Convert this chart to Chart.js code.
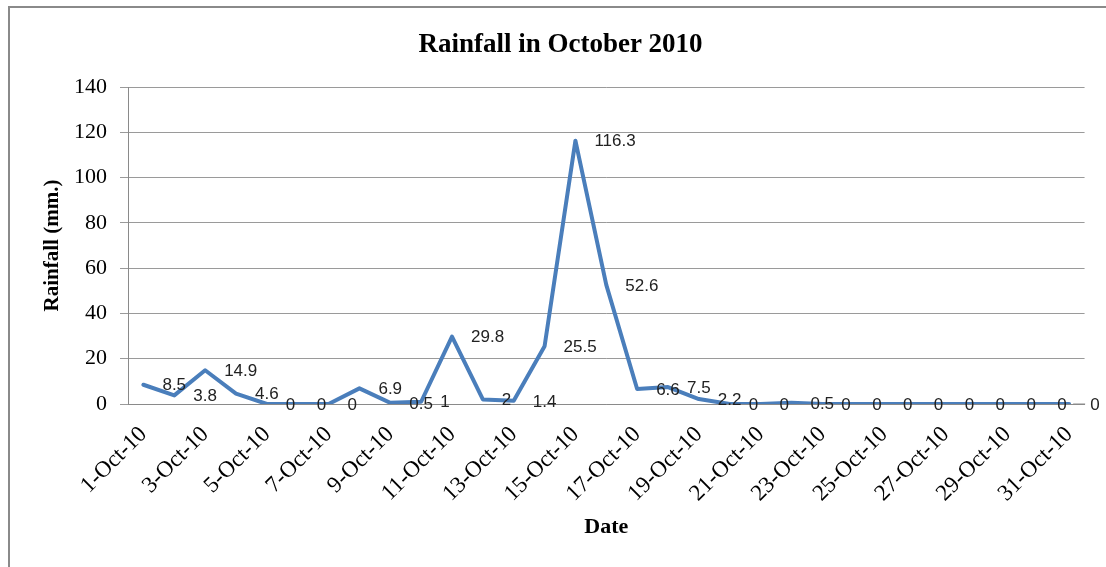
<!DOCTYPE html>
<html>
<head>
<meta charset="utf-8">
<script src="https://cdn.jsdelivr.net/npm/chart.js@4/dist/chart.umd.min.js"></script>
<style>
  html, body { margin: 0; padding: 0; background: #ffffff; }
  #wrap { width: 1106px; height: 567px; position: relative; }
</style>
</head>
<body>
<div id="wrap"><canvas id="c" width="1106" height="567"></canvas></div>
<script>
const dates = ['1-Oct-10','2-Oct-10','3-Oct-10','4-Oct-10','5-Oct-10','6-Oct-10','7-Oct-10','8-Oct-10','9-Oct-10','10-Oct-10',
  '11-Oct-10','12-Oct-10','13-Oct-10','14-Oct-10','15-Oct-10','16-Oct-10','17-Oct-10','18-Oct-10','19-Oct-10','20-Oct-10',
  '21-Oct-10','22-Oct-10','23-Oct-10','24-Oct-10','25-Oct-10','26-Oct-10','27-Oct-10','28-Oct-10','29-Oct-10','30-Oct-10','31-Oct-10'];
const rainfall = [8.5, 3.8, 14.9, 4.6, 0, 0, 0, 6.9, 0.5, 1,
  29.8, 2, 1.4, 25.5, 116.3, 52.6, 6.6, 7.5, 2.2, 0,
  0, 0.5, 0, 0, 0, 0, 0, 0, 0, 0, 0];
const yTicks = [0, 20, 40, 60, 80, 100, 120, 140];
const chartTitle = 'Rainfall in October 2010';
const xTitle = 'Date';
const yTitle = 'Rainfall (mm.)';

const frame = {
  id: 'frame',
  beforeDraw(chart) {
    const ctx = chart.ctx;
    ctx.save();
    ctx.strokeStyle = '#8a8a8a';
    ctx.lineWidth = 2;
    ctx.beginPath();
    ctx.moveTo(9, chart.height);
    ctx.lineTo(9, 7);
    ctx.lineTo(chart.width, 7);
    ctx.stroke();
    ctx.restore();
  }
};

const valueLabels = {
  id: 'valueLabels',
  afterDatasetsDraw(chart) {
    const ctx = chart.ctx;
    const xs = chart.scales.x, ys = chart.scales.y;
    ctx.save();
    ctx.font = '17px "Liberation Sans", Arial, sans-serif';
    ctx.fillStyle = '#222222';
    ctx.textAlign = 'left';
    ctx.textBaseline = 'middle';
    rainfall.forEach((v, i) => {
      const x = xs.getPixelForValue(i);
      const y = ys.getPixelForValue(v);
      if (i === rainfall.length - 1) {
        ctx.strokeStyle = '#8a8a8a';
        ctx.lineWidth = 1;
        ctx.beginPath();
        ctx.moveTo(x + 4, y);
        ctx.lineTo(x + 16, y);
        ctx.stroke();
        ctx.fillText(String(v), x + 21, y + 1);
      } else {
        ctx.fillText(String(v), x + 19, y + 1);
      }
    });
    ctx.restore();
  }
};

new Chart(document.getElementById('c'), {
  type: 'line',
  data: {
    labels: dates,
    datasets: [{
      data: rainfall,
      borderColor: '#4a7ebb',
      borderWidth: 4,
      pointRadius: 0,
      tension: 0,
      fill: false,
      borderJoinStyle: 'round',
      borderCapStyle: 'round'
    }]
  },
  options: {
    responsive: false,
    animation: false,
    devicePixelRatio: 1,
    layout: { padding: { left: 36, right: 21, top: 0, bottom: 0 } },
    plugins: {
      legend: { display: false },
      tooltip: { enabled: false },
      title: {
        display: true,
        text: chartTitle,
        color: '#000000',
        font: { family: '"Liberation Serif", "Times New Roman", serif', size: 27, weight: 'bold' },
        padding: { top: 29, bottom: 25.6 }
      }
    },
    scales: {
      x: {
        type: 'category',
        offset: true,
        grid: { display: false, drawTicks: false },
        border: { display: true, color: '#8a8a8a', width: 1 },
        ticks: {
          autoSkip: false,
          minRotation: 45,
          maxRotation: 45,
          padding: 17,
          color: '#000000',
          font: { family: '"Liberation Serif", "Times New Roman", serif', size: 23 },
          callback: function(value, index) { return index % 2 === 0 ? dates[index] : ''; }
        },
        title: {
          display: true,
          text: xTitle,
          color: '#000000',
          font: { family: '"Liberation Serif", "Times New Roman", serif', size: 22, weight: 'bold' },
          padding: { top: 0, bottom: 26 }
        },
        afterFit(scale) { scale.height = 163; }
      },
      y: {
        min: 0,
        max: 140,
        grid: { color: '#9a9a9a', lineWidth: 1, tickLength: 8, drawTicks: true },
        border: { display: true, color: '#8a8a8a', width: 1 },
        afterBuildTicks(scale) { scale.ticks = yTicks.map(v => ({ value: v })); },
        ticks: {
          padding: 13,
          color: '#000000',
          font: { family: '"Liberation Serif", "Times New Roman", serif', size: 22 }
        },
        title: {
          display: true,
          text: yTitle,
          color: '#000000',
          font: { family: '"Liberation Serif", "Times New Roman", serif', size: 21, weight: 'bold' },
          padding: { top: 4, bottom: 0 }
        },
        afterFit(scale) { scale.width = 92; }
      }
    }
  },
  plugins: [frame, valueLabels]
});
</script>
</body>
</html>
